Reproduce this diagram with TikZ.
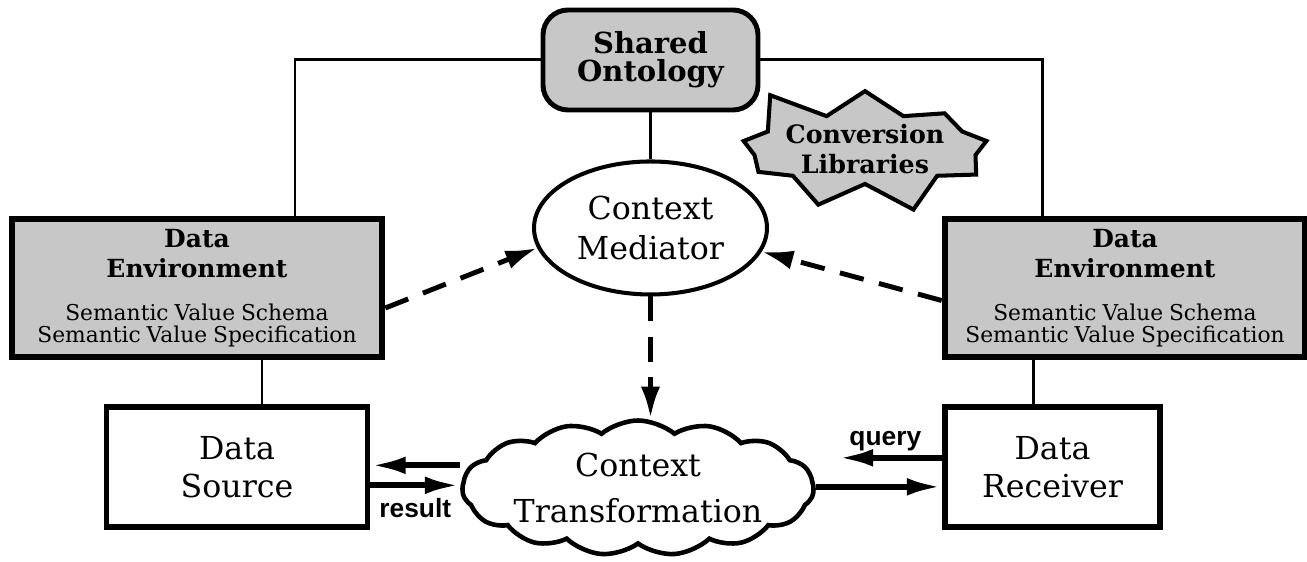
\documentclass[tikz,border=0pt]{standalone}
\usepackage{fontspec}
\setmainfont{DejaVu Serif}
\newfontfamily\labelfont{Liberation Sans}
\usepackage{tikz}
\usetikzlibrary{arrows.meta,positioning,shapes.geometric,shapes.symbols}
\newcommand{\envtitle}{\bfseries\fontsize{14.2}{17}\selectfont}
\newcommand{\envbody}{\mdseries\fontsize{12.4}{12.5}\selectfont}

\begin{document}
\begin{tikzpicture}[
  >=Latex,
  shade/.style={fill=black!22},
  ontology/.style={draw,line width=2.8pt,rounded corners=0.5cm,shade,align=center,
    minimum width=4.3cm,minimum height=2cm,inner sep=1mm,
    font=\bfseries\fontsize{16.5}{16}\selectfont},
  mediator/.style={draw,ellipse,line width=2.3pt,align=center,inner sep=0pt,
    minimum width=4.66cm,minimum height=2.66cm,font=\fontsize{18}{22.7}\selectfont},
  library/.style={draw,starburst,starburst points=9,starburst point height=0.75cm,
    random starburst=5,line width=2.3pt,shade,align=center,inner sep=0pt,
    minimum width=4.6cm,minimum height=2.8cm,font=\bfseries\fontsize{14.4}{17}\selectfont},
  envbox/.style={draw,line width=3.8pt,shade,text width=7.4cm,align=center,
    inner sep=0pt,minimum height=2.76cm},
  databox/.style={draw,line width=3.4pt,align=center,inner sep=0pt,
    minimum height=2.4cm,font=\fontsize{18}{21.5}\selectfont},
  transform/.style={draw,cloud,cloud puffs=15,cloud puff arc=80,cloud ignores aspect,
    line width=2.6pt,align=center,inner sep=0pt,minimum width=6.35cm,minimum height=2.7cm,
    font=\fontsize{18}{26}\selectfont},
  link/.style={line width=1.7pt},
  flow/.style={-{Latex[length=20pt,width=10pt]},line width=3.4pt},
  mediate/.style={-{Latex[length=18pt,width=11pt]},line width=2.8pt,
    dash pattern=on 14pt off 9pt},
  lbl/.style={font=\labelfont\bfseries\fontsize{15}{15}\selectfont,inner sep=1pt}
]
\useasboundingbox (0,0) rectangle (26.14,-11.24);

\node[ontology] (onto) at (13.01,-1.2) {Shared\\Ontology};
\node[mediator,below=0.94cm of onto] (med) {Context\\Mediator};
\node[transform] (ctx) at (12.76,-9.76) {Context\\Transformation};
\node[library] (conv) at (17.3,-2.98) {Conversion\\Libraries};

\node[envbox] (envS) at (3.94,-5.76)
  {{\envtitle Data\\Environment\par}\vspace{11.9pt}
   {\envbody Semantic Value Schema\\Semantic Value Specification\par}};
\node[envbox,text width=7.2cm] (envR) at (22.5,-5.76)
  {{\envtitle Data\\Environment\par}\vspace{11.9pt}
   {\envbody Semantic Value Schema\\Semantic Value Specification\par}};

\node[databox,minimum width=5.22cm,below=0.88cm of envS,xshift=0.8cm] (src) {Data\\Source};
\node[databox,minimum width=4.3cm,below=0.88cm of envR,xshift=-1.45cm] (rcv) {Data\\Receiver};

\draw[link] (onto.west) -| ([xshift=1.96cm]envS.north);
\draw[link] (onto.east) -| ([xshift=-1.66cm]envR.north);
\draw[link] (onto) -- (med);
\draw[link] ([xshift=0.5cm]src.north) -- ([xshift=0.5cm]src.north |- envS.south);
\draw[link] ([xshift=-0.39cm]rcv.north) -- ([xshift=-0.39cm]rcv.north |- envR.south);

\draw[mediate] ([yshift=-0.4cm]envS.east) -- (med.190);
\draw[mediate] ([yshift=-0.25cm]envR.west) -- (med.348);
\draw[mediate] (med.south) -- (med.south |- ctx.north);

\coordinate (s1) at ([yshift=0.04cm]src.east);
\coordinate (s2) at ([yshift=-0.36cm]src.east);
\coordinate (r1) at ([yshift=0.19cm]rcv.west);
\coordinate (r2) at ([yshift=-0.39cm]rcv.west);
\draw[flow] (s1 -| ctx.west) -- (s1);
\draw[flow] (s2) -- node[lbl,below=5pt]{result} (s2 -| ctx.west);
\draw[flow,shorten >=0.44cm] (r1) -- node[lbl,above=1pt,pos=0.45]{query} (r1 -| ctx.east);
\draw[flow] (r2 -| ctx.east) -- (r2);
\end{tikzpicture}
\end{document}
